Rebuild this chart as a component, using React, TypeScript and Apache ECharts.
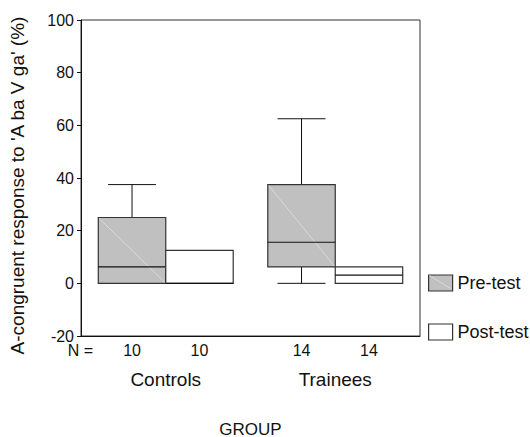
import React, { useEffect, useRef } from "react";
import * as echarts from "echarts";

const categories = ["Controls", "Trainees"];
// [categoryIndex, min, q1, median, q3, max, n]
const preTest = [
  [0, 0, 0, 6.25, 25, 37.5, 10],
  [1, 0, 6.25, 15.6, 37.5, 62.5, 14],
];
const postTest = [
  [0, 0, 0, 0, 12.5, 12.5, 10],
  [1, 0, 0, 3.1, 6.25, 6.25, 14],
];
const yTicks = { min: -20, max: 100, interval: 20 };

const FONT = "'Liberation Sans', Arial, Helvetica, sans-serif";
const PRE_FILL = "#c0c0c0";
const POST_FILL = "#ffffff";
const STROKE = "#333333";

function makeRender(offsetFrac: number, widthFrac: number, fill: string, diagonal: boolean) {
  return (params: any, api: any) => {
    const ci = api.value(0);
    const band = api.size([1, 0])[0];
    const cx = api.coord([ci, 0])[0] + offsetFrac * band;
    const w = widthFrac * band;
    const y = (i: number) => api.coord([ci, api.value(i)])[1];
    const yMin = y(1), yQ1 = y(2), yMed = y(3), yQ3 = y(4), yMax = y(5);
    const yBottom = api.coord([ci, yTicks.min])[1];
    const cap = w * 0.71;
    const lineStyle = { stroke: "#111", lineWidth: 1 };
    const children: any[] = [];
    if (yMax < yQ3 - 0.5) {
      children.push({ type: "line", shape: { x1: cx, y1: yQ3, x2: cx, y2: yMax }, style: lineStyle });
      children.push({ type: "line", shape: { x1: cx - cap / 2, y1: yMax, x2: cx + cap / 2, y2: yMax }, style: lineStyle });
    }
    if (yMin > yQ1 + 0.5) {
      children.push({ type: "line", shape: { x1: cx, y1: yQ1, x2: cx, y2: yMin }, style: lineStyle });
      children.push({ type: "line", shape: { x1: cx - cap / 2, y1: yMin, x2: cx + cap / 2, y2: yMin }, style: lineStyle });
    }
    children.push({
      type: "rect",
      shape: { x: cx - w / 2, y: yQ3, width: w, height: yQ1 - yQ3 },
      style: { fill, stroke: STROKE, lineWidth: 1.2 },
    });
    if (diagonal) {
      children.push({
        type: "line",
        shape: { x1: cx - w / 2 + 1, y1: yQ3 + 1, x2: cx + w / 2 - 1, y2: yQ1 - 1 },
        style: { stroke: "#dadada", lineWidth: 1 },
      });
    }
    children.push({
      type: "line",
      shape: { x1: cx - w / 2, y1: yMed, x2: cx + w / 2, y2: yMed },
      style: { stroke: "#111", lineWidth: 1.2 },
    });
    children.push({
      type: "text",
      x: cx,
      y: yBottom + 14,
      style: {
        text: String(api.value(6)),
        align: "center",
        verticalAlign: "middle",
        fontSize: 16,
        fontFamily: FONT,
        fill: "#111",
      },
    });
    return { type: "group", children };
  };
}

export default function App() {
  const ref = useRef<HTMLDivElement>(null);
  useEffect(() => {
    document.body.style.margin = "0";
    const chart = echarts.init(ref.current!, undefined, { renderer: "svg" });
    chart.setOption({
      animation: false,
      backgroundColor: "#ffffff",
      textStyle: { fontFamily: FONT },
      grid: {
        left: 81,
        top: 20,
        right: 110,
        bottom: 101,
        outerBoundsMode: "none",
        containLabel: false,
        show: true,
        borderColor: "#333",
        borderWidth: 1,
        backgroundColor: "transparent",
      },
      legend: {
        orient: "vertical",
        left: 428,
        top: 274,
        padding: 0,
        itemWidth: 24,
        itemHeight: 16,
        itemGap: 31,
        icon: "rect",
        selectedMode: false,
        textStyle: { fontSize: 18, color: "#111", fontFamily: FONT },
        data: [
          { name: "Pre-test", itemStyle: { color: PRE_FILL, borderColor: STROKE, borderWidth: 1.2 } },
          { name: "Post-test", itemStyle: { color: POST_FILL, borderColor: STROKE, borderWidth: 1.2 } },
        ],
      },
      xAxis: {
        type: "category",
        data: categories,
        name: "GROUP",
        nameLocation: "middle",
        nameGap: 86,
        nameTextStyle: { fontSize: 17, lineHeight: 14, color: "#111", fontFamily: FONT },
        axisLine: { onZero: false, lineStyle: { color: "#111", width: 1 } },
        axisTick: { alignWithLabel: true, length: 4, lineStyle: { color: "#111" } },
        axisLabel: { fontSize: 19, color: "#111", margin: 34, fontFamily: FONT },
        splitLine: { show: false },
      },
      yAxis: {
        type: "value",
        min: yTicks.min,
        max: yTicks.max,
        interval: yTicks.interval,
        axisLine: { show: true, lineStyle: { color: "#111", width: 1 } },
        axisTick: { show: true, length: 4, lineStyle: { color: "#111" } },
        axisLabel: { fontSize: 16, color: "#111", margin: 7, fontFamily: FONT },
        splitLine: { show: false },
      },
      graphic: [
        {
          type: "text",
          x: 17,
          y: 185.5,
          rotation: Math.PI / 2,
          style: {
            text: "A-congruent response to 'A ba V ga' (%)",
            align: "center",
            verticalAlign: "middle",
            fontSize: 19,
            fontFamily: FONT,
            fill: "#111",
          },
        },
        {
          type: "text",
          x: 80.5,
          y: 350,
          style: {
            text: "N =",
            align: "center",
            verticalAlign: "middle",
            fontSize: 16,
            fontFamily: FONT,
            fill: "#111",
          },
        },
        {
          type: "line",
          shape: { x1: 429.5, y1: 275.5, x2: 450.5, y2: 288.5 },
          style: { stroke: "#dadada", lineWidth: 1 },
          z: 200,
        },
      ],
      series: [
        {
          name: "Pre-test",
          type: "custom",
          clip: false,
          itemStyle: { color: PRE_FILL, borderColor: STROKE },
          encode: { x: 0, y: [1, 2, 3, 4, 5] },
          renderItem: makeRender(-0.199, 0.398, PRE_FILL, true),
          data: preTest,
        },
        {
          name: "Post-test",
          type: "custom",
          clip: false,
          itemStyle: { color: POST_FILL, borderColor: STROKE },
          encode: { x: 0, y: [1, 2, 3, 4, 5] },
          renderItem: makeRender(0.199, 0.398, POST_FILL, false),
          data: postTest,
        },
      ],
    });
    return () => chart.dispose();
  }, []);
  return <div ref={ref} style={{ width: 530, height: 437 }} />;
}
